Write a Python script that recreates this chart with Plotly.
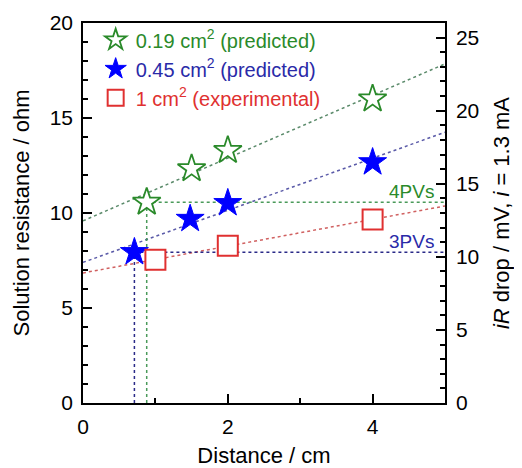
import numpy as np
import plotly.graph_objects as go

# ---- data ----
distance_019 = [0.88, 1.5, 2.0, 4.0]
resistance_019 = [10.57, 12.33, 13.29, 16.0]
distance_045 = [0.71, 1.48, 2.0, 4.0]
resistance_045 = [7.94, 9.69, 10.52, 12.67]
distance_1 = [1.0, 2.0, 4.0]
resistance_1 = [7.54, 8.27, 9.66]
current_mA = 1.3
x_range = [0, 5]
y_range = [0, 20]
x_ticks = [0, 2, 4]
y_ticks = [0, 5, 10, 15, 20]
y2_ticks = [0, 5, 10, 15, 20, 25]

GREEN = "#2a8a2a"
BLUE = "#0000ff"
NAVY = "#2a2aa8"
RED = "#e03030"
FONT = "Liberation Sans, Arial, sans-serif"

fig = go.Figure()

def fit_line(xs, ys):
    k, b = np.polyfit(xs, ys, 1)
    xx = np.array(x_range, dtype=float)
    return xx, k * xx + b

# fit lines
for xs, ys, col in [(distance_019, resistance_019, "#5a8a6a"),
                    (distance_045, resistance_045, "#5a5aa8"),
                    (distance_1, resistance_1, "#d06060")]:
    fx, fy = fit_line(xs, ys)
    fig.add_trace(go.Scatter(x=fx, y=fy, mode="lines", showlegend=False, hoverinfo="skip",
                             line=dict(color=col, width=1.5, dash="dot")))

# guide lines (horizontal and vertical) at first predicted points
for xs, ys, col in [(distance_019, resistance_019, "#4a9a5a"),
                    (distance_045, resistance_045, "#2a2a88")]:
    fig.add_trace(go.Scatter(x=[xs[0], x_range[1]], y=[ys[0], ys[0]], mode="lines",
                             showlegend=False, hoverinfo="skip",
                             line=dict(color=col, width=1.5, dash="dot")))
    fig.add_trace(go.Scatter(x=[xs[0], xs[0]], y=[y_range[0], ys[0]], mode="lines",
                             showlegend=False, hoverinfo="skip",
                             line=dict(color=col, width=1.5, dash="dot")))

# markers
fig.add_trace(go.Scatter(
    x=distance_019, y=resistance_019, mode="markers",
    name='<span style="color:%s">0.19 cm<sup>2</sup> (predicted)</span>' % GREEN,
    marker=dict(symbol="star", size=21, color="white", line=dict(color=GREEN, width=1.8))))
fig.add_trace(go.Scatter(
    x=distance_045, y=resistance_045, mode="markers",
    name='<span style="color:%s">0.45 cm<sup>2</sup> (predicted)</span>' % NAVY,
    marker=dict(symbol="star", size=21, color=BLUE, line=dict(color=BLUE, width=1))))
fig.add_trace(go.Scatter(
    x=distance_1, y=resistance_1, mode="markers",
    name='<span style="color:%s">1 cm<sup>2</sup> (experimental)</span>' % RED,
    marker=dict(symbol="square", size=20, color="white", line=dict(color=RED, width=2))))

# invisible trace on right axis (iR drop)
fig.add_trace(go.Scatter(x=distance_1, y=[r * current_mA for r in resistance_1], yaxis="y2",
                         mode="markers", marker=dict(opacity=0), showlegend=False, hoverinfo="skip"))

fig.add_annotation(x=x_range[1], y=resistance_019[0], text="4PVs", showarrow=False,
                   xanchor="right", yanchor="bottom", xshift=-9, yshift=-2,
                   font=dict(family=FONT, size=19, color=GREEN))
fig.add_annotation(x=x_range[1], y=resistance_045[0], text="3PVs", showarrow=False,
                   xanchor="right", yanchor="bottom", xshift=-9, yshift=-2,
                   font=dict(family=FONT, size=19, color=NAVY))

axis_common = dict(showline=True, linecolor="black", linewidth=1.5, ticks="inside",
                   ticklen=9, tickwidth=1.5, tickcolor="black", showgrid=False, zeroline=False,
                   automargin=False,
                   tickfont=dict(family=FONT, size=21, color="black"))

fig.update_layout(
    width=514, height=460,
    margin=dict(l=75, r=77, t=15, b=65),
    paper_bgcolor="white", plot_bgcolor="white",
    font=dict(family=FONT, color="black"),
    xaxis=dict(range=x_range, tickvals=x_ticks, mirror=True,
               minor=dict(dtick=1, ticklen=5, ticks="inside", tickcolor="black", tickwidth=1.5),
               title=dict(text="Distance / cm", font=dict(family=FONT, size=22), standoff=12),
               ticklabelstandoff=4, **axis_common),
    yaxis=dict(range=y_range, tickvals=y_ticks, mirror=True,
               minor=dict(dtick=1, ticklen=5, ticks="inside", tickcolor="black", tickwidth=1.5),
               title=dict(text="Solution resistance / ohm", font=dict(family=FONT, size=22), standoff=14),
               ticklabelstandoff=4, **axis_common),
    yaxis2=dict(range=[y_range[0] * current_mA, y_range[1] * current_mA], tickvals=y2_ticks,
                overlaying="y", side="right",
                minor=dict(dtick=1, ticklen=5, ticks="inside", tickcolor="black", tickwidth=1.5),
                title=dict(text="<i>iR</i> drop / mV, <i>i</i> = 1.3 mA",
                           font=dict(family=FONT, size=22), standoff=15),
                ticklabelstandoff=5, **axis_common),
    legend=dict(x=0.035, y=1.007, xanchor="left", yanchor="top", bgcolor="rgba(0,0,0,0)",
                font=dict(family=FONT, size=20), tracegroupgap=0),
    showlegend=True,
)

fig.write_html("out.html")
